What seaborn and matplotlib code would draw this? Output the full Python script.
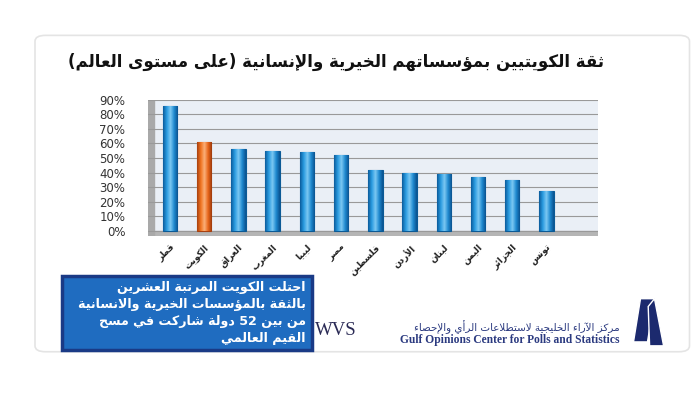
import re
import numpy as np
import matplotlib
matplotlib.use("Agg")
import matplotlib.pyplot as plt
from matplotlib.patches import FancyBboxPatch, Rectangle, Polygon
from matplotlib.colors import LinearSegmentedColormap
import seaborn as sns
import pandas as pd

# ---------------- data ----------------
countries = ["قطر", "الكويت", "العراق", "المغرب", "ليبيا", "مصر",
             "فلسطين", "الأردن", "لبنان", "اليمن", "الجزائر", "تونس"]
values = [0.86, 0.61, 0.56, 0.55, 0.54, 0.52, 0.42, 0.40, 0.39, 0.37, 0.35, 0.27]
highlight = "الكويت"
yticks = [0, 0.1, 0.2, 0.3, 0.4, 0.5, 0.6, 0.7, 0.8, 0.9]
ytick_labels = ["0%", "10%", "20%", "30%", "40%", "50%", "60%", "70%", "80%", "90%"]
title = "ثقة الكويتيين بمؤسساتهم الخيرية والإنسانية (على مستوى العالم)"
box_lines = ["احتلت الكويت المرتبة العشرين",
             "بالثقة بالمؤسسات الخيرية والانسانية",
             "من بين 52 دولة شاركت في مسح",
             "القيم العالمي"]
logo_ar = "مركز الآراء الخليجية لاستطلاعات الرأي والإحصاء"
logo_en = "Gulf Opinions Center for Polls and Statistics"
wvs = "WVS"

# ---------------- Arabic shaping (presentation forms) ----------------
TABLE = {
    '\u0621': (0xFE80, 1), '\u0622': (0xFE81, 2), '\u0623': (0xFE83, 2),
    '\u0624': (0xFE85, 2), '\u0625': (0xFE87, 2), '\u0626': (0xFE89, 4),
    '\u0627': (0xFE8D, 2), '\u0628': (0xFE8F, 4), '\u0629': (0xFE93, 2),
    '\u062A': (0xFE95, 4), '\u062B': (0xFE99, 4), '\u062C': (0xFE9D, 4),
    '\u062D': (0xFEA1, 4), '\u062E': (0xFEA5, 4), '\u062F': (0xFEA9, 2),
    '\u0630': (0xFEAB, 2), '\u0631': (0xFEAD, 2), '\u0632': (0xFEAF, 2),
    '\u0633': (0xFEB1, 4), '\u0634': (0xFEB5, 4), '\u0635': (0xFEB9, 4),
    '\u0636': (0xFEBD, 4), '\u0637': (0xFEC1, 4), '\u0638': (0xFEC5, 4),
    '\u0639': (0xFEC9, 4), '\u063A': (0xFECD, 4), '\u0641': (0xFED1, 4),
    '\u0642': (0xFED5, 4), '\u0643': (0xFED9, 4), '\u0644': (0xFEDD, 4),
    '\u0645': (0xFEE1, 4), '\u0646': (0xFEE5, 4), '\u0647': (0xFEE9, 4),
    '\u0648': (0xFEED, 2), '\u0649': (0xFEEF, 2), '\u064A': (0xFEF1, 4),
}
LAMALEF = {'\u0622': 0xFEF5, '\u0623': 0xFEF7, '\u0625': 0xFEF9, '\u0627': 0xFEFB}


def _joins(c):
    return c in TABLE and TABLE[c][1] > 1


def _dual(c):
    return c in TABLE and TABLE[c][1] == 4


def shape(s):
    chars = list(s)
    n = len(chars)
    res = []
    i = 0
    while i < n:
        c = chars[i]
        prev = chars[i - 1] if i > 0 else None
        if c not in TABLE:
            res.append(c)
            i += 1
            continue
        jp = prev is not None and _dual(prev)
        if c == '\u0644' and i + 1 < n and chars[i + 1] in LAMALEF:
            res.append(chr(LAMALEF[chars[i + 1]] + (1 if jp else 0)))
            i += 2
            continue
        nxt = chars[i + 1] if i + 1 < n else None
        jn = nxt is not None and _joins(nxt) and _dual(c)
        start, cnt = TABLE[c]
        if cnt == 1:
            res.append(chr(start))
        elif cnt == 2:
            res.append(chr(start + (1 if jp else 0)))
        else:
            off = {(False, False): 0, (True, False): 1, (False, True): 2, (True, True): 3}[(jp, jn)]
            res.append(chr(start + off))
        i += 1
    return "".join(res)


def ar(s):
    t = shape(s)[::-1]
    t = re.sub(r'[0-9A-Za-z%.,]+', lambda m: m.group(0)[::-1], t)
    return t.translate(str.maketrans('()', ')('))


# ---------------- figure ----------------
sns.set_theme(style="white")
plt.rcParams['font.family'] = ['DejaVu Sans']

fig = plt.figure(figsize=(7.0, 3.93), dpi=100)
fig.patch.set_facecolor("white")

# outer panel (behind everything)
panel = FancyBboxPatch((0.05, 0.105), 0.935, 0.805, boxstyle="round,pad=0.0,rounding_size=0.015",
                       transform=fig.transFigure, facecolor="white", edgecolor="#e4e4e4",
                       lw=1.2, zorder=-10)
fig.patches.append(panel)

fig.text(0.48, 0.842, ar(title), ha="center", va="center", fontsize=12,
         fontweight="bold", color="#111111")

ax = fig.add_axes([0.211, 0.40, 0.643, 0.346])
labels = [ar(c) for c in countries]
df = pd.DataFrame({"country": labels, "value": values})
colors = ["#f36f21" if c == highlight else "#1c8ed6" for c in countries]
edges = ["#a8400f" if c == highlight else "#0b5a96" for c in countries]
sns.barplot(data=df, x="country", y="value", hue="country", palette=colors,
            legend=False, width=0.42, ax=ax, saturation=1)

# cylinder-like shading clipped to each seaborn bar
blue_cm = LinearSegmentedColormap.from_list("b", ["#0b5c9c", "#2a9be0", "#7cc8f2", "#1f8ad0", "#0a5290"])
orange_cm = LinearSegmentedColormap.from_list("o", ["#a8400f", "#f0731f", "#fbb07a", "#e8651a", "#9c3a0c"])
grad = np.linspace(0, 1, 64).reshape(1, -1)
for p, c, ec in zip(ax.patches, countries, edges):
    p.set_edgecolor(ec)
    p.set_linewidth(0.8)
    x0, w, h = p.get_x(), p.get_width(), p.get_height()
    im = ax.imshow(grad, extent=[x0, x0 + w, 0, h], aspect="auto",
                   cmap=orange_cm if c == highlight else blue_cm, zorder=3)
    im.set_clip_path(p)

ax.set_facecolor("#eaeff6")
ax.set_xlim(-0.65, 12.5)
ax.set_ylim(-0.035, 0.9)
ax.axhspan(-0.035, 0, color="#b5b5b5", zorder=0)
ax.axvspan(-0.65, -0.47, color="#a9a9a9", zorder=0)
ax.set_yticks(yticks)
ax.set_yticklabels(ytick_labels, fontsize=8.5, color="#333333")
ax.yaxis.grid(True, color="#999999", lw=0.8)
ax.set_axisbelow(True)
ax.set_xlabel("")
ax.set_ylabel("")
ax.tick_params(axis="y", length=0, pad=16)
ax.tick_params(axis="x", length=0, pad=5)
for lab in ax.get_xticklabels():
    lab.set_rotation(45)
    lab.set_ha("right")
    lab.set_rotation_mode("anchor")
    lab.set_fontsize(6.5)
    lab.set_fontweight("bold")
    lab.set_color("#222222")
for s in ax.spines.values():
    s.set_visible(False)

# blue info box
box = Rectangle((0.089, 0.11), 0.357, 0.188, transform=fig.transFigure,
                facecolor="#1f6cc0", edgecolor="#1a3a86", lw=2.5, zorder=-5)
fig.patches.append(box)
for k, line in enumerate(box_lines):
    fig.text(0.437, 0.268 - k * 0.043, ar(line), ha="right", va="center",
             fontsize=9.1, fontweight="bold", color="white")

# WVS mark
fig.text(0.48, 0.16, wvs, ha="center", va="center", fontsize=13.5,
         family="Liberation Serif", color="#2a2a55")

# logo
fig.text(0.885, 0.168, ar(logo_ar), ha="right", va="center", fontsize=7.5, color="#2b3a80")
fig.text(0.885, 0.134, logo_en, ha="right", va="center", fontsize=8.3,
         family="Liberation Serif", fontweight="bold", color="#2b3a80")
fig.patches.append(Polygon([(0.905, 0.13), (0.925, 0.13), (0.935, 0.24), (0.915, 0.24)],
                           closed=True, transform=fig.transFigure, facecolor="#1c2a6e", zorder=-5))
fig.patches.append(Polygon([(0.928, 0.12), (0.948, 0.12), (0.935, 0.24), (0.926, 0.22)],
                           closed=True, transform=fig.transFigure, facecolor="#1c2a6e", zorder=-5))

fig.savefig("out.png", dpi=100)
